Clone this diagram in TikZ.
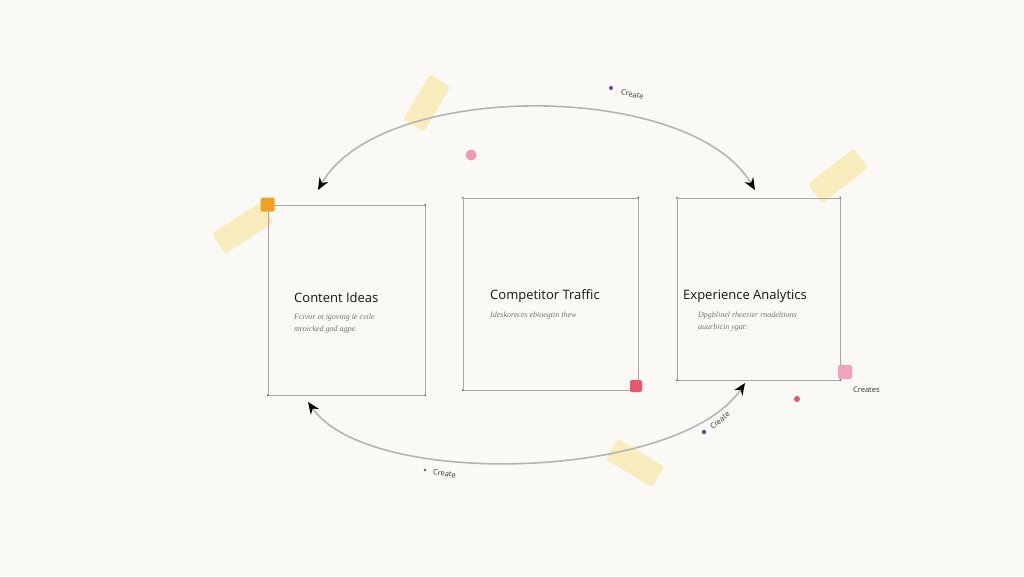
\documentclass[tikz,border=0pt]{standalone}
\usepackage{fontspec}
\setmainfont{Open Sans}
\newfontfamily\notefont{Liberation Serif}
\usetikzlibrary{arrows.meta}
\definecolor{bgc}{HTML}{FAF9F5}
\definecolor{tapec}{HTML}{F7E08E}
\definecolor{linec}{HTML}{B4B4B4}
\definecolor{boxc}{HTML}{A6A6A6}
\definecolor{orangec}{HTML}{F0A024}
\definecolor{redc}{HTML}{E8566A}
\definecolor{pinkc}{HTML}{F2A2BA}
\definecolor{purplec}{HTML}{6A4A8A}
\tikzset{
  cardbox/.style={draw=boxc, line width=0.6pt, rectangle, inner sep=0pt},
  tape/.style={fill=tapec, fill opacity=0.55, rounded corners=3pt, minimum height=24pt, inner sep=0pt},
  heading/.style={font=\fontsize{13}{15}\selectfont, text=black!92, anchor=west, inner sep=0pt},
  note/.style={font=\notefont\itshape\fontsize{8}{12}\selectfont, text=black!55, anchor=north west, align=left, inner sep=0pt},
  lbl/.style={font=\fontsize{7.5}{9}\selectfont, text=black!80, inner sep=0pt},
  flow/.style={draw=linec, line width=1.6pt, {Stealth[length=12pt,width=10pt,black]}-{Stealth[length=12pt,width=10pt,black]}},
}
\begin{document}
\begin{tikzpicture}[x=1pt,y=-1pt]
\fill[bgc] (0,0) rectangle (1024,576);
\useasboundingbox (0,0) rectangle (1024,576);

% tapes (under)
\node[tape, minimum width=52pt, rotate=59] (tp1) at (427,103) {};
\node[tape, minimum width=58pt, rotate=38] (tp2) at (838,176) {};
\node[tape, minimum width=58pt, rotate=33] (tp3) at (243,228) {};
\node[tape, minimum width=54pt, rotate=-31] (tp4) at (635,463) {};

% boxes
\node[cardbox, minimum width=157pt, minimum height=190pt] (b1) at (346.5,300) {};
\node[cardbox, minimum width=175pt, minimum height=192pt] (b2) at (550.5,294) {};
\node[cardbox, minimum width=163pt, minimum height=182pt] (b3) at (758.5,289) {};

% corner dots
\foreach \b in {b1,b2,b3}{
  \foreach \c in {north west,north east,south west,south east}{
    \fill[black!60] (\b.\c) circle (0.9pt);
  }
}

% headings and notes
\node[heading] (h1) at (294,298) {Content Ideas};
\node[note] (n1) at (294,314) {Fcivor ot igoving te cvile\\mroicked god agpe.};
\node[heading] (h2) at (490,296) {Competitor Traffic};
\node[note] (n2) at (490,312) {Ideskoreces ebioegtin thew};
\node[heading] (h3) at (683,296) {Experience Analytics};
\node[note] (n3) at (698,312) {Dpgblinel rheerier rnodeltions\\auurbicin ygat:};

% connectors
\coordinate (a1) at (318,190);
\coordinate (a3) at (755,190);
\draw[flow] (a1) .. controls (380,80) and (690,80) .. (a3);
\coordinate (c1) at (308,402);
\coordinate (c3) at (745,383);
\draw[flow] (c1) .. controls (370,490) and (680,480) .. (c3);

% markers
\node[fill=orangec, rounded corners=2pt, minimum size=14pt, inner sep=0pt] (m1) at (b1.north west) {};
\node[fill=redc, rounded corners=2pt, minimum size=12pt, inner sep=0pt] (m2) at (636,386) {};
\node[fill=pinkc, rounded corners=2pt, minimum size=14pt, inner sep=0pt] (m3) at (845,372) {};
\fill[pinkc!90!redc] (471,155) circle (5.5pt);
\fill[redc] (797,399) circle (3pt);

% labels
\fill[purplec] (611,88) circle (2pt);
\node[lbl, rotate=-12, anchor=west] (l1) at (621,92) {Create};
\node[lbl, anchor=west] (l2) at (853,390) {Creates};
\fill[purplec] (425,470) circle (1.3pt);
\node[lbl, rotate=-8, anchor=west] (l3) at (433,472) {Create};
\fill[purplec] (704,432) circle (2.2pt);
\node[lbl, rotate=40, anchor=west] (l4) at (711,428) {Create};
\end{tikzpicture}
\end{document}
